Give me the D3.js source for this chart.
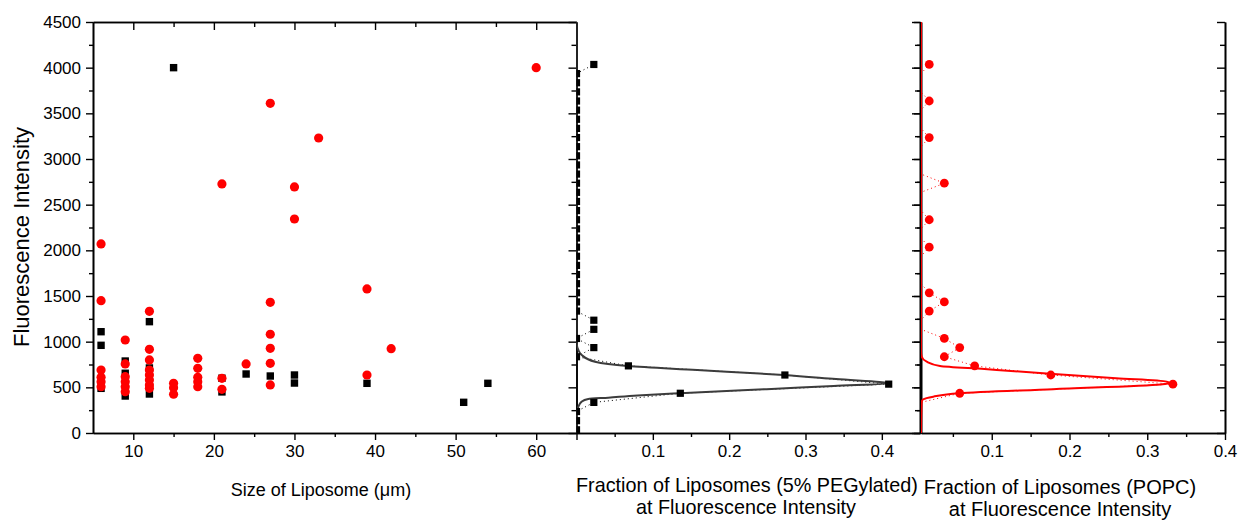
<!DOCTYPE html>
<html><head><meta charset="utf-8">
<script src="https://cdn.jsdelivr.net/npm/d3@7"></script>
<style>
body{margin:0;background:#fff;}
svg{display:block;font-family:"Liberation Sans",Arial,sans-serif;}
</style></head><body><svg id="c" width="1241" height="520"></svg>
<script>
// ---------- data ----------
const intensityTicks = [0,500,1000,1500,2000,2500,3000,3500,4000,4500];
const intensityMinor = [250,750,1250,1750,2250,2750,3250,3750,4250];
const sizeTicks = [10,20,30,40,50,60];
const sizeMinor = [15,25,35,45,55];
const fractionTicks = [0.1,0.2,0.3,0.4];
const fractionMinor = [0.05,0.15,0.25,0.35];

// scatter: 5% PEGylated (black squares)
const pegSize      = [6,6,6, 9,9,9, 12,12,12, 15, 21,21, 24, 27, 30,30, 39, 51, 54];
const pegIntensity = [1109,960,489, 788,654,405, 1219,712,427, 4000, 600,450, 646, 624, 635,547, 544, 336, 544];
// scatter: POPC (red circles)
const popcSize      = [6,6,6,6,6,6, 9,9,9,9,9,9, 12,12,12,12,12,12,12,12, 15,15,15, 18,18,18,18,18, 21,21,21, 24, 27,27,27,27,27,27, 30,30, 33, 39,39, 42, 60];
const popcIntensity = [2070,1449,690,610,562,507, 1018,756,617,562,507,452, 1332,916,800,690,635,580,526,489, 544,496,424, 818,708,610,562,507, 2727,599,478, 756, 3610,1431,1081,927,763,526, 2694,2343, 3230, 1577,635, 923, 4000];

// histogram bins (fluorescence intensity)
const binIntensity = [35,135,235,335,435,535,635,735,835,935,1035,1135,1235,1335,1435,1535,1635,1735,1835,1935,2035,2135,2235,2335,2435,2535,2635,2735,2835,2935,3035,3135,3235,3335,3435,3535,3635,3735,3835,3935,4035];
const pegFraction  = [0,0,0,0.0227,0.136,0.409,0.273,0.068,0,0.0227,0,0.0227,0.0227,0,0,0,0,0,0,0,0,0,0,0,0,0,0,0,0,0,0,0,0,0,0,0,0,0,0,0,0.0227];
const popcFraction = [0,0,0,0,0.0588,0.333,0.176,0.078,0.039,0.0588,0.039,0,0,0.0196,0.039,0.0196,0,0,0,0,0.0196,0,0,0.0196,0,0,0,0.039,0,0,0,0,0.0196,0,0,0,0.0196,0,0,0,0.0196];

// fitted curves
const pegFitIntensity = [0,250,288,343,372,387,410,435,480,515,544,590,635,690,734,781,854,909,982,1100,4500];
const pegFitFraction  = [0,0.001,0.0024,0.0068,0.0154,0.0416,0.08,0.1357,0.249,0.337,0.41,0.34,0.2716,0.158,0.067,0.0242,0.0068,0.0024,0.0003,0,0];
const popcFitIntensity = [0,343,369,398,435,480,531,548,562,600,650,700,734,781,835,900,985,4500];
const popcFitFraction  = [0,0.0099,0.012,0.0248,0.058,0.179,0.317,0.329,0.325,0.26,0.175,0.0907,0.0335,0.0163,0.0099,0.005,0,0];

// ---------- drawing ----------
const svg = d3.select("#c");
const yS = d3.scaleLinear().domain([0,4500]).range([433,22]);
const xL = d3.scaleLinear().domain([5,65]).range([93,576.5]);
const xM = d3.scaleLinear().domain([0,0.45]).range([576.5,920]);
const xR = d3.scaleLinear().domain([0.009,0.4]).range([921,1225]);
const xRc = xR.copy().clamp(true);
const xMc = xM.copy().clamp(true);

function styleAxis(g){
  g.selectAll("path.domain").attr("stroke","#000").attr("stroke-width",1.6);
  g.selectAll(".tick line").attr("stroke","#000").attr("stroke-width",1.4);
  g.selectAll("text").attr("font-size","17px").attr("fill","#000")
    .attr("font-family",'"Liberation Sans",Arial,sans-serif');
}
function addAxis(axis, tx, ty){
  const g = svg.append("g").attr("transform",`translate(${tx},${ty})`).call(axis);
  styleAxis(g); return g;
}
const none = () => "";

// defs: clips
const defs = svg.append("defs");
defs.append("clipPath").attr("id","clipM").append("rect").attr("x",576.5).attr("y",0).attr("width",343.5).attr("height",520);
defs.append("clipPath").attr("id","clipR").append("rect").attr("x",921).attr("y",0).attr("width",320).attr("height",520);

// ----- left panel -----
const gL = svg.append("g");
gL.selectAll("rect.peg").data(pegSize.map((s,i)=>[s,pegIntensity[i]])).enter().append("rect")
  .attr("x",d=>xL(d[0])-3.7).attr("y",d=>yS(d[1])-3.7).attr("width",7.4).attr("height",7.4).attr("fill","#000");
gL.selectAll("circle.popc").data(popcSize.map((s,i)=>[s,popcIntensity[i]])).enter().append("circle")
  .attr("cx",d=>xL(d[0])).attr("cy",d=>yS(d[1])).attr("r",4.6).attr("fill","#ff0000");

addAxis(d3.axisLeft(yS).tickValues(intensityTicks).tickSize(7).tickSizeOuter(0).tickPadding(5).tickFormat(d3.format("d")),93,0);
addAxis(d3.axisLeft(yS).tickValues(intensityMinor).tickSize(4).tickSizeOuter(0).tickFormat(none),93,0);
addAxis(d3.axisBottom(xL).tickValues(sizeTicks).tickSize(7).tickSizeOuter(0).tickPadding(5).tickFormat(d3.format("d")),0,433);
addAxis(d3.axisBottom(xL).tickValues(sizeMinor).tickSize(4).tickSizeOuter(0).tickFormat(none),0,433);
addAxis(d3.axisTop(xL).tickValues(sizeTicks).tickSize(-8).tickSizeOuter(0).tickFormat(none),0,22);
addAxis(d3.axisTop(xL).tickValues(sizeMinor).tickSize(-5).tickSizeOuter(0).tickFormat(none),0,22);
addAxis(d3.axisLeft(yS).tickValues(intensityTicks).tickSize(8).tickSizeOuter(0).tickFormat(none),576.5,0);
addAxis(d3.axisLeft(yS).tickValues(intensityMinor).tickSize(5).tickSizeOuter(0).tickFormat(none),576.5,0);

// ----- middle panel -----
addAxis(d3.axisBottom(xM).tickValues([0].concat(fractionTicks)).tickSize(7).tickSizeOuter(0).tickPadding(5).tickFormat(d=>d===0?"":d3.format(".1f")(d)),0,433);
addAxis(d3.axisBottom(xM).tickValues(fractionMinor).tickSize(4).tickSizeOuter(0).tickFormat(none),0,433);
addAxis(d3.axisLeft(yS).tickValues(intensityTicks).tickSize(8).tickSizeOuter(0).tickFormat(none),920,0);
addAxis(d3.axisLeft(yS).tickValues(intensityMinor).tickSize(5).tickSizeOuter(0).tickFormat(none),920,0);

const gM = svg.append("g").attr("clip-path","url(#clipM)");
const pegHist = binIntensity.map((b,i)=>[b,pegFraction[i]]);
gM.append("path").datum(pegHist)
  .attr("d",d3.line().x(d=>xMc(d[1])).y(d=>yS(d[0])))
  .attr("fill","none").attr("stroke","#000").attr("stroke-width",1).attr("stroke-dasharray","1,3");
gM.append("path").datum(pegFitIntensity.map((v,i)=>[v,pegFitFraction[i]]))
  .attr("d",d3.line().x(d=>xMc(d[1])).y(d=>yS(d[0])).curve(d3.curveMonotoneY))
  .attr("fill","none").attr("stroke","#3c3c3c").attr("stroke-width",2);
gM.selectAll("rect").data(pegHist).enter().append("rect")
  .attr("x",d=>xM(d[1])-3.6).attr("y",d=>yS(d[0])-3.6).attr("width",7.2).attr("height",7.2).attr("fill","#000");

// ----- right panel -----
addAxis(d3.axisBottom(xR).tickValues(fractionTicks).tickSize(7).tickSizeOuter(0).tickPadding(5).tickFormat(d3.format(".1f")),0,433);
addAxis(d3.axisBottom(xR).tickValues(fractionMinor).tickSize(4).tickSizeOuter(0).tickFormat(none),0,433);
addAxis(d3.axisLeft(yS).tickValues(intensityTicks).tickSize(7).tickSizeOuter(0).tickFormat(none),921,0);
addAxis(d3.axisLeft(yS).tickValues(intensityMinor).tickSize(4).tickSizeOuter(0).tickFormat(none),921,0);
addAxis(d3.axisLeft(yS).tickValues(intensityTicks).tickSize(8).tickSizeOuter(0).tickFormat(none),1225,0);
addAxis(d3.axisLeft(yS).tickValues(intensityMinor).tickSize(5).tickSizeOuter(0).tickFormat(none),1225,0);

const gR = svg.append("g").attr("clip-path","url(#clipR)");
const popcHist = binIntensity.map((b,i)=>[b,popcFraction[i]]);
gR.append("path").datum(popcHist)
  .attr("d",d3.line().x(d=>xRc(d[1])).y(d=>yS(d[0])))
  .attr("fill","none").attr("stroke","#ff0000").attr("stroke-width",1).attr("stroke-dasharray","1,3");
gR.append("path").datum(popcFitIntensity.map((v,i)=>[v,popcFitFraction[i]]))
  .attr("d",d3.line().x(d=>xRc(d[1])).y(d=>yS(d[0])).curve(d3.curveMonotoneY))
  .attr("fill","none").attr("stroke","#ff0000").attr("stroke-width",2);
gR.selectAll("circle").data(popcHist).enter().append("circle")
  .attr("cx",d=>xR(d[1])).attr("cy",d=>yS(d[0])).attr("r",4.4).attr("fill","#ff0000");

// ----- titles -----
const tFont = '"Liberation Sans",Arial,sans-serif';
svg.append("text").attr("transform","translate(29,237) rotate(-90)").attr("text-anchor","middle")
  .attr("font-size","22px").attr("font-family",tFont).text("Fluorescence Intensity");
svg.append("text").attr("x",321).attr("y",496).attr("text-anchor","middle")
  .attr("font-size","18px").attr("font-family",tFont).text("Size of Liposome (\u03bcm)");
svg.append("text").attr("x",747).attr("y",492).attr("text-anchor","middle")
  .attr("font-size","19.8px").attr("font-family",tFont).text("Fraction of Liposomes (5% PEGylated)");
svg.append("text").attr("x",746).attr("y",514).attr("text-anchor","middle")
  .attr("font-size","19.8px").attr("font-family",tFont).text("at Fluorescence Intensity");
svg.append("text").attr("x",1060).attr("y",494).attr("text-anchor","middle")
  .attr("font-size","20px").attr("font-family",tFont).text("Fraction of Liposomes (POPC)");
svg.append("text").attr("x",1060).attr("y",516).attr("text-anchor","middle")
  .attr("font-size","20px").attr("font-family",tFont).text("at Fluorescence Intensity");
</script></body></html>
